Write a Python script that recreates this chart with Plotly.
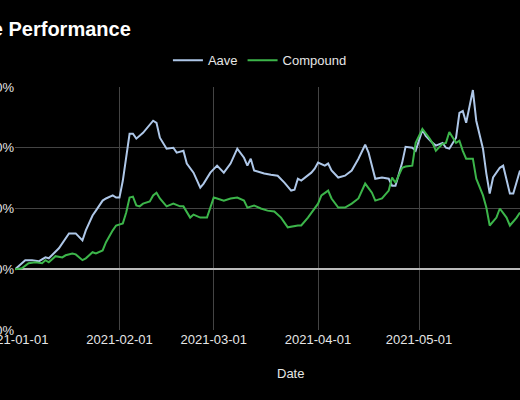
import plotly.graph_objects as go

# Rendimiento acumulado (%) desde 2021-01-01
aave_dates = [
    "2021-01-01", "2021-01-04", "2021-01-06", "2021-01-08", "2021-01-10", "2021-01-11",
    "2021-01-14", "2021-01-16", "2021-01-17", "2021-01-19", "2021-01-21", "2021-01-22",
    "2021-01-24", "2021-01-25", "2021-01-27", "2021-01-28", "2021-01-30", "2021-01-31",
    "2021-02-01", "2021-02-02", "2021-02-04", "2021-02-05", "2021-02-06", "2021-02-08",
    "2021-02-09", "2021-02-11", "2021-02-12", "2021-02-13", "2021-02-15", "2021-02-17",
    "2021-02-18", "2021-02-20", "2021-02-21", "2021-02-23", "2021-02-25", "2021-02-26",
    "2021-02-28",
    "2021-03-02", "2021-03-04", "2021-03-06", "2021-03-08", "2021-03-10", "2021-03-11",
    "2021-03-12", "2021-03-13", "2021-03-15", "2021-03-16", "2021-03-18", "2021-03-20",
    "2021-03-22", "2021-03-24", "2021-03-25", "2021-03-26", "2021-03-27", "2021-03-30",
    "2021-03-31",
    "2021-04-01", "2021-04-03", "2021-04-04", "2021-04-05", "2021-04-07", "2021-04-09",
    "2021-04-11", "2021-04-13", "2021-04-15", "2021-04-16", "2021-04-18", "2021-04-20",
    "2021-04-22", "2021-04-23", "2021-04-24", "2021-04-26", "2021-04-27", "2021-04-29",
    "2021-04-30",
    "2021-05-02", "2021-05-03", "2021-05-05", "2021-05-06", "2021-05-08", "2021-05-09",
    "2021-05-10", "2021-05-12", "2021-05-13", "2021-05-14", "2021-05-15", "2021-05-17",
    "2021-05-18", "2021-05-20", "2021-05-21", "2021-05-22", "2021-05-23", "2021-05-25",
    "2021-05-26", "2021-05-28", "2021-05-29", "2021-05-31",
]
aave_pct = [
    0, 30, 30, 26, 39, 36, 69, 102, 118, 118, 95, 128, 177, 193, 226, 233, 243, 236,
    236, 292, 446, 446, 430, 449, 462, 489, 482, 433, 397, 400, 384, 390, 348, 318, 269, 282, 318,
    341, 318, 348, 397, 367, 341, 364, 325, 318, 315, 311, 308, 285, 259, 262, 298, 292, 318, 331,
    351, 341, 348, 325, 302, 308, 325, 364, 410, 384, 298, 302, 298, 275, 275, 351, 403, 400, 390,
    459, 439, 416, 407, 416, 400, 397, 433, 515, 521, 482, 590, 489, 397, 315, 249, 302, 334, 341,
    249, 249, 325,
]

comp_dates = [
    "2021-01-01", "2021-01-03", "2021-01-05", "2021-01-07", "2021-01-09", "2021-01-10",
    "2021-01-11", "2021-01-13", "2021-01-15", "2021-01-16", "2021-01-18", "2021-01-19",
    "2021-01-21", "2021-01-22", "2021-01-24", "2021-01-25", "2021-01-27", "2021-01-28",
    "2021-01-30", "2021-01-31",
    "2021-02-02", "2021-02-03", "2021-02-04", "2021-02-05", "2021-02-06", "2021-02-07",
    "2021-02-08", "2021-02-10", "2021-02-11", "2021-02-12", "2021-02-13", "2021-02-15",
    "2021-02-17", "2021-02-19", "2021-02-20", "2021-02-22", "2021-02-23", "2021-02-25",
    "2021-02-27",
    "2021-03-01", "2021-03-02", "2021-03-04", "2021-03-06", "2021-03-08", "2021-03-10",
    "2021-03-11", "2021-03-13", "2021-03-15", "2021-03-17", "2021-03-19", "2021-03-21",
    "2021-03-23", "2021-03-26", "2021-03-27", "2021-03-29", "2021-03-30",
    "2021-04-01", "2021-04-02", "2021-04-04", "2021-04-05", "2021-04-07", "2021-04-09",
    "2021-04-11", "2021-04-13", "2021-04-15", "2021-04-17", "2021-04-18", "2021-04-20",
    "2021-04-22", "2021-04-23", "2021-04-24", "2021-04-26", "2021-04-27", "2021-04-29",
    "2021-04-30",
    "2021-05-01", "2021-05-02", "2021-05-04", "2021-05-05", "2021-05-06", "2021-05-08",
    "2021-05-09", "2021-05-10", "2021-05-12", "2021-05-13", "2021-05-14", "2021-05-15",
    "2021-05-17", "2021-05-18", "2021-05-20", "2021-05-21", "2021-05-22", "2021-05-24",
    "2021-05-25", "2021-05-27", "2021-05-28", "2021-05-30", "2021-05-31",
]
comp_pct = [
    0, 3, 20, 23, 20, 30, 23, 43, 39, 46, 52, 49, 30, 36, 56, 52, 62, 89, 128, 144,
    151, 187, 236, 239, 210, 207, 216, 223, 243, 252, 233, 207, 216, 207, 207, 170, 180, 170, 170,
    236, 233, 226, 233, 236, 226, 203, 210, 200, 193, 190, 170, 138, 144, 144, 170, 184,
    216, 243, 259, 233, 203, 203, 216, 233, 282, 252, 226, 233, 259, 302, 285, 334, 338, 341, 416,
    439, 462, 433, 416, 390, 413, 416, 452, 416, 423, 390, 364, 364, 298, 243, 203, 144, 170, 200,
    170, 144, 170, 187,
]

y_ticks = [-200, 0, 200, 400, 600]
y_labels = ["-200%", "0%", "200%", "400%", "600%"]

font = "Liberation Sans, Arial, sans-serif"

fig = go.Figure()
fig.add_trace(go.Scatter(x=aave_dates, y=aave_pct, mode="lines", name="Aave",
                         line=dict(color="#aec7e8", width=2)))
fig.add_trace(go.Scatter(x=comp_dates, y=comp_pct, mode="lines", name="Compound",
                         line=dict(color="#3cb54a", width=2)))

fig.update_layout(
    width=520, height=400,
    paper_bgcolor="black", plot_bgcolor="black",
    font=dict(family=font, color="#e6e6e6", size=13),
    margin=dict(l=15, r=0, t=87, b=70),
    showlegend=True,
    legend=dict(orientation="h", x=0.485, xanchor="center", y=1.11, yanchor="middle",
                font=dict(size=13, color="#e6e6e6"), bgcolor="rgba(0,0,0,0)"),
    xaxis=dict(
        range=["2020-12-31 23:00", "2021-05-31"],
        dtick="M1", tick0="2021-01-01", tickformat="%Y-%m-%d",
        showgrid=True, gridcolor="#444444", gridwidth=1,
        zeroline=False, showline=False, ticks="", automargin=False,
        ticklabeloverflow="allow",
        tickfont=dict(size=13, color="#e6e6e6"),
    ),
    yaxis=dict(
        range=[-200, 600], tickvals=y_ticks, ticktext=y_labels,
        showgrid=True, gridcolor="#444444", gridwidth=1,
        zeroline=True, zerolinecolor="#bbbbbb", zerolinewidth=1.5,
        showline=False, ticks="", automargin=False,
        ticklabeloverflow="allow",
        tickfont=dict(size=13, color="#e6e6e6"),
    ),
    annotations=[
        dict(text="<b>Price Performance</b>", xref="paper", yref="paper",
             x=0, y=1.24, xanchor="right", yanchor="middle", xshift=118,
             showarrow=False, font=dict(size=20, color="white", family=font)),
        dict(text="Date", xref="paper", yref="paper",
             x=0, y=-0.177, xanchor="center", yanchor="middle", xshift=275,
             showarrow=False, font=dict(size=13, color="#e6e6e6", family=font)),
    ],
)

fig.write_html("out.html", config={"displayModeBar": False},
               post_script="document.body.style.margin='0';"
                           "document.body.style.background='black';")
